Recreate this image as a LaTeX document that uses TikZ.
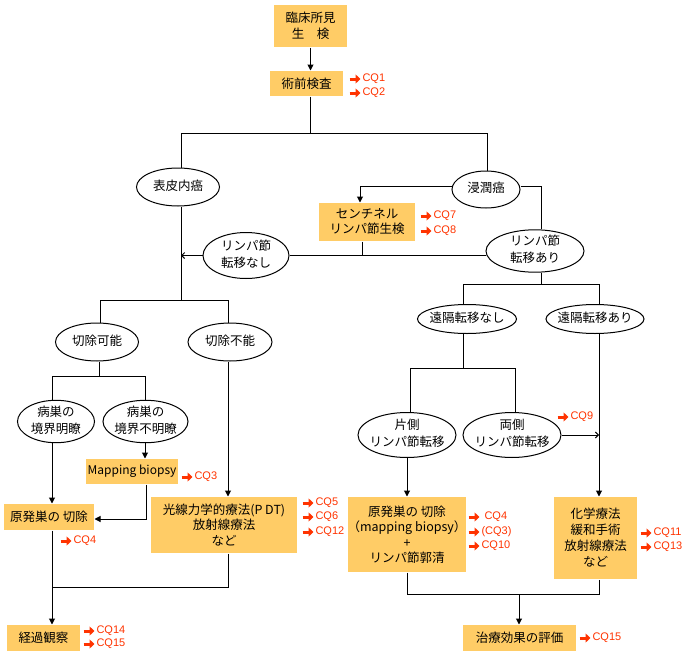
\documentclass[tikz,border=0pt]{standalone}
\usepackage{fontspec}
\setmainfont{Noto Sans CJK JP}
\newfontfamily\cqfont{Liberation Sans}
\usetikzlibrary{arrows.meta,shapes.geometric}
\definecolor{boxfill}{RGB}{255,204,102}
\definecolor{cqred}{RGB}{255,51,0}
\newcommand{\zwbox}[1]{\makebox[0pt]{\begin{tabular}{@{}c@{}}#1\end{tabular}}}
\begin{document}
\begin{tikzpicture}[x=1pt,y=-1pt,line width=1pt,
  box/.style={fill=boxfill,draw=none,inner sep=0pt,align=center,font=\fontsize{12.5}{15.5}\selectfont},
  ell/.style={draw,ellipse,inner xsep=0pt,inner ysep=-2pt,font=\fontsize{12.5}{17}\selectfont},
  flow/.style={-{Triangle[length=6pt,width=6pt]}},
  openarr/.style={-{Straight Barb[length=3pt,width=6pt]}},
  cq/.style={anchor=west,inner sep=0pt,text=cqred,font=\cqfont\fontsize{11}{12}\selectfont},
  cqarr/.style={draw=cqred,line width=3pt,-{Triangle[length=5pt,width=9pt]}}]
\useasboundingbox (0,0) rectangle (686,656);

% top
\node[box,minimum width=73pt,minimum height=42pt] (rinsho) at (310.5,26) {臨床所見\\生　検};
\node[box,minimum width=73pt,minimum height=25pt] (jutsu) at (306.5,83.5) {術前検査};
\coordinate (jA) at (310,133);
\coordinate (hL) at (181,133);
\coordinate (hR) at (487,133);
\node[ell,minimum width=83pt,minimum height=38pt] (hyohi) at (178,187) {\zwbox{表皮内癌}};
\node[ell,minimum width=68pt,minimum height=37pt] (shin) at (486,189.5) {\zwbox{浸潤癌}};
\node[box,minimum width=96pt,minimum height=38pt,font=\fontsize{12.5}{15}\selectfont] (senti) at (367,222) {センチネル\\リンパ節生検};
\node[ell,minimum width=86pt,minimum height=46pt] (lnN) at (246,255.5) {\zwbox{リンパ節\\転移なし}};
\node[ell,minimum width=98pt,minimum height=40pt] (lnA) at (535,251) {\zwbox{リンパ節\\転移あり}};

\draw[flow] (rinsho.south) -- (rinsho.south |- jutsu.north);
\draw (jA |- jutsu.south) -- (jA);
\draw (hL |- hyohi.north) -- (hL) -- (hR) -- (hR |- shin.north);
\draw[flow] ([yshift=3pt]shin.west) -| ([xshift=-7pt]senti.north);
\coordinate (aX) at (541,284);
\draw ([yshift=3pt]shin.east) -| (aX |- lnA.north);
\draw[openarr] (lnN.west) -- (lnN.west -| hL);
\draw (lnN.east) -- (lnN.east -| lnA.west);
\draw ([xshift=-5pt]senti.south) -- ([xshift=-5pt]senti.south |- lnN.east);

% left branch
\coordinate (kJ) at (181,300);
\coordinate (kL) at (100,300);
\coordinate (kR) at (228,300);
\node[ell,minimum width=83pt,minimum height=38pt] (kanou) at (97,342) {\zwbox{切除可能}};
\node[ell,minimum width=84pt,minimum height=38pt] (funou) at (230,342) {\zwbox{切除不能}};
\draw (hL |- hyohi.south) -- (kJ);
\draw (kL |- kanou.north) -- (kL) -- (kR) -- (kR |- funou.north);
\coordinate (mJ) at (99,376);
\coordinate (mL) at (52,376);
\coordinate (mR) at (145,376);
\node[ell,minimum width=77pt,minimum height=39pt] (meiryo) at (56,421.5) {\zwbox{病巣の\\境界明瞭}};
\node[ell,minimum width=85pt,minimum height=39pt] (fumei) at (145.5,421.5) {\zwbox{病巣の\\境界不明瞭}};
\draw (mJ |- kanou.south) -- (mJ);
\draw (mL |- meiryo.north) -- (mL) -- (mR) -- (mR |- fumei.north);
\node[box,minimum width=92pt,minimum height=25pt,font=\fontsize{12}{14}\selectfont] (mapb) at (132,471.5) {Mapping biopsy};
\draw[flow] (mR |- fumei.south) -- (mR |- mapb.north);
\node[box,minimum width=90pt,minimum height=26pt] (genL) at (49,517) {原発巣の 切除};
\coordinate (mbx) at (146,519);
\draw[flow] (mbx |- mapb.south) -- (mbx) -- (mbx -| genL.east);
\draw[flow] (mL |- meiryo.south) -- (mL |- genL.north);
\node[box,minimum width=146pt,minimum height=56pt] (pdt) at (224,525) {光線力学的療法(P DT)\\放射線療法\\など};
\draw[flow] (kR |- funou.south) -- (kR |- pdt.north);
\node[box,minimum width=73pt,minimum height=26pt] (keika) at (43.5,638) {経過観察};
\draw[flow] (mL |- genL.south) -- (mL |- keika.north);
\coordinate (pj) at (228,587);
\draw (pj |- pdt.south) -- (pj) -- (pj -| mL);

% right branch
\coordinate (eL) at (463,284);
\coordinate (eR) at (599,284);
\node[ell,minimum width=99pt,minimum height=29pt] (enN) at (467,319) {\zwbox{遠隔転移なし}};
\node[ell,minimum width=98pt,minimum height=29pt] (enA) at (595,319) {\zwbox{遠隔転移あり}};
\draw (aX |- lnA.south) -- (aX);
\draw (eL |- enN.north) -- (eL) -- (eR) -- (eR |- enA.north);
\coordinate (sJ) at (463,368);
\coordinate (sL) at (410,368);
\coordinate (sR) at (515,368);
\node[ell,minimum width=98pt,minimum height=45pt] (kata) at (407,435) {\zwbox{片側\\リンパ節転移}};
\node[ell,minimum width=98pt,minimum height=45pt] (ryo) at (512,435) {\zwbox{両側\\リンパ節転移}};
\draw (sJ |- enN.south) -- (sJ);
\draw (sL |- kata.north) -- (sL) -- (sR) -- (sR |- ryo.north);
\draw[openarr] (ryo.east) -- (ryo.east -| eR);
\node[box,minimum width=83pt,minimum height=82pt,font=\fontsize{12.5}{16}\selectfont] (kagaku) at (595.5,538) {化学療法\\緩和手術\\放射線療法\\など};
\draw[flow] (eR |- enA.south) -- (eR |- kagaku.north);
\node[box,minimum width=113pt,minimum height=75pt] (genR) at (407,534.5) {原発巣の 切除\\（mapping biopsy）\\+\\リンパ節郭清};
\draw[flow] (kata.south) -- (kata.south |- genR.north);
\coordinate (bJ) at (519,594);
\draw (genR.south) -- (genR.south |- bJ) -- (bJ -| eR) -- (eR |- kagaku.south);
\node[box,minimum width=113pt,minimum height=26pt] (chiryo) at (519.5,638) {治療効果の評価};
\draw[flow] (bJ) -- (bJ |- chiryo.north);

% CQ labels
\node[cq] (q1) at (362,79) {CQ1};
\node[cq] (q2) at (362,93) {CQ2};
\node[cq] (q7) at (433,216) {CQ7};
\node[cq] (q8) at (433,231) {CQ8};
\node[cq] (q3) at (194,477) {CQ3};
\node[cq] (q4) at (73,541) {CQ4};
\node[cq] (q5) at (315,503) {CQ5};
\node[cq] (q6) at (315,517) {CQ6};
\node[cq] (q12) at (315,532) {CQ12};
\node[cq] (q14) at (96,631) {CQ14};
\node[cq] (q15) at (96,644) {CQ15};
\node[cq] (q9) at (570,417) {CQ9};
\node[cq] (q4r) at (484,517) {CQ4};
\node[cq] (q3r) at (481,532) {(CQ3)};
\node[cq] (q10) at (481,546) {CQ10};
\node[cq] (q11) at (653,533) {CQ11};
\node[cq] (q13) at (653,547) {CQ13};
\node[cq] (q15r) at (592,638) {CQ15};
\foreach \n in {q1,q2,q7,q8,q3,q4,q5,q6,q12,q14,q15,q9,q3r,q10,q11,q13,q15r}
  \draw[cqarr] ([xshift=-12.5pt]\n.west) -- ([xshift=-1.5pt]\n.west);
\draw[cqarr] ([xshift=-15.5pt]q4r.west) -- ([xshift=-4.5pt]q4r.west);
\end{tikzpicture}
\end{document}
